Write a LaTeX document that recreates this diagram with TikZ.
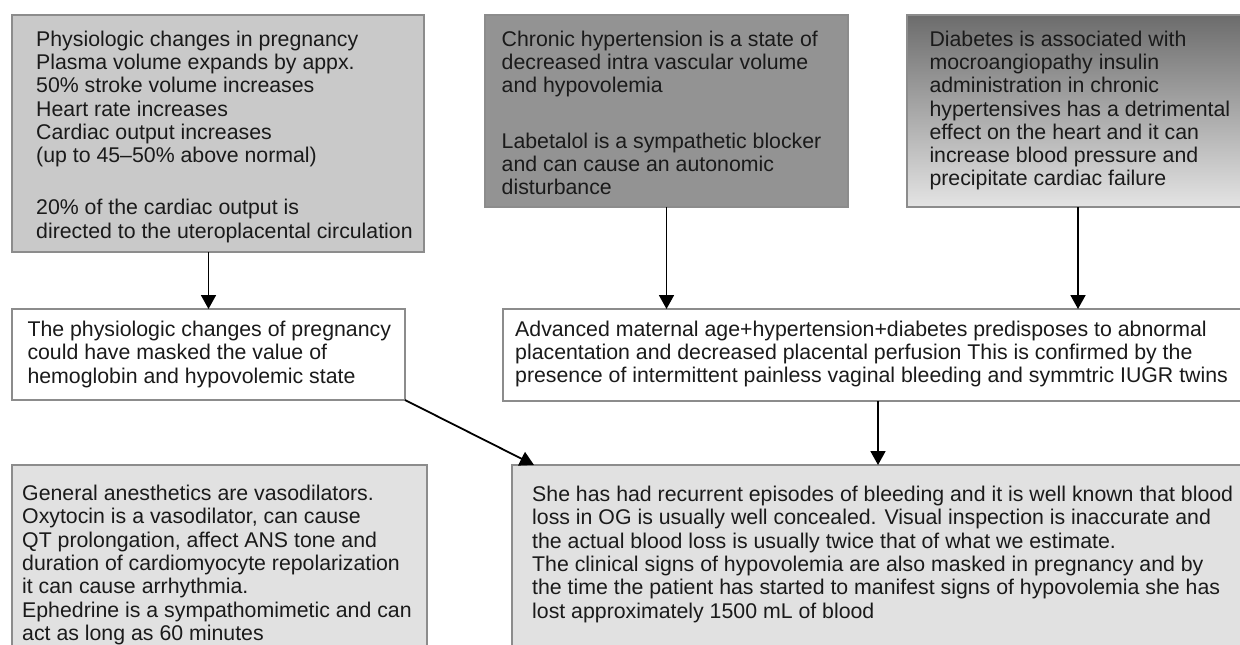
\documentclass[tikz,border=0pt]{standalone}
\usepackage{fontspec}
\setmainfont{Liberation Sans}
\usetikzlibrary{arrows.meta}
\definecolor{boxline}{HTML}{8C8C8C}
\definecolor{txtgray}{HTML}{1A1A1A}
\definecolor{lightfill}{HTML}{C9C9C9}
\definecolor{midfill}{HTML}{939393}
\definecolor{palefill}{HTML}{E1E1E1}
\definecolor{shadetop}{HTML}{6C6C6C}
\definecolor{shadebot}{HTML}{E4E4E4}
\newcommand{\bodyfont}{\fontsize{21.3}{23.3}\selectfont}
\tikzset{
  box/.style={draw=boxline, line width=1.3pt, inner sep=0pt, outer sep=0pt, anchor=north west},
  txt/.style={anchor=north west, inner sep=0pt, align=left, text=txtgray, font=\bodyfont},
  arr/.style={-{Triangle[length=14pt,width=15pt]}, line width=1.8pt, black}
}

\begin{document}
\begin{tikzpicture}[x=1pt,y=-1pt]
    \useasboundingbox (0,0) rectangle (1240,645);
    \clip (0,0) rectangle (1240,645);

    % top row
    \node[box, fill=lightfill, minimum width=412pt, minimum height=237pt] (physio) at (12,15) {};
    \node[box, fill=midfill, minimum width=363pt, minimum height=192pt] (chronic) at (485,15) {};
    \node[box, top color=shadetop, bottom color=shadebot, minimum width=342pt, minimum height=192pt] (diabetes) at (907,15) {};

    % middle row
    \node[box, fill=white, minimum width=393pt, minimum height=91pt] (masked) at (12,309) {};
    \node[box, fill=white, minimum width=750pt, minimum height=92pt] (advanced) at (503,309) {};

    % bottom row
    \node[box, fill=palefill, minimum width=415pt, minimum height=195pt] (drugs) at (12,465) {};
    \node[box, fill=palefill, minimum width=732pt, minimum height=195pt] (bleeding) at (512,465) {};

    \node[txt] (physiotxt) at ([shift={(24,15.5)}]physio.north west) {Physiologic changes in pregnancy\\
      Plasma volume expands by appx.\\
      50\% stroke volume increases\\
      Heart rate increases\\
      Cardiac output increases\\
      (up to 45–50\% above normal)\\[29pt]
      20\% of the cardiac output is\\
      directed to the uteroplacental circulation};
    \node[txt] (chronictxt) at ([shift={(16.5,15.5)}]chronic.north west) {Chronic hypertension is a state of\\
      decreased intra vascular volume\\
      and hypovolemia\\[32pt]
      Labetalol is a sympathetic blocker\\
      and can cause an autonomic\\
      disturbance};
    \node[txt] (diabetestxt) at ([shift={(22.3,15.5)}]diabetes.north west) {Diabetes is associated with\\
      mocroangiopathy insulin\\
      administration in chronic\\
      hypertensives has a detrimental\\
      effect on the heart and it can\\
      increase blood pressure and\\
      precipitate cardiac failure};
    \node[txt] (maskedtxt) at ([shift={(15.3,12)}]masked.north west) {The physiologic changes of pregnancy\\
      could have masked the value of\\
      hemoglobin and hypovolemic state};
    \node[txt] (advancedtxt) at ([shift={(12,11.5)}]advanced.north west) {Advanced maternal age+hypertension+diabetes predisposes to abnormal\\
      placentation and decreased placental perfusion This is confirmed by the\\
      presence of intermittent painless vaginal bleeding and symmtric IUGR twins};
    \node[txt] (drugstxt) at ([shift={(10,20)}]drugs.north west) {General anesthetics are vasodilators.\\
      Oxytocin is a vasodilator, can cause\\
      QT prolongation, affect ANS tone and\\
      duration of cardiomyocyte repolarization\\
      it can cause arrhythmia.\\
      Ephedrine is a sympathomimetic and can\\
      act as long as 60 minutes};
    \node[txt] (bleedingtxt) at ([shift={(20,21)}]bleeding.north west) {She has had recurrent episodes of bleeding and it is well known that blood\\
      loss in OG is usually well concealed. Visual inspection is inaccurate and\\
      the actual blood loss is usually twice that of what we estimate.\\
      The clinical signs of hypovolemia are also masked in pregnancy and by\\
      the time the patient has started to manifest signs of hypovolemia she has\\
      lost approximately 1500 mL of blood};

    % arrows
    \draw[arr] (physio.south -| masked.north) -- (masked.north);
    \draw[arr] (chronic.south) -- (chronic.south |- advanced.north);
    \draw[arr] (diabetes.south) -- (diabetes.south |- advanced.north);
    \draw[arr] (advanced.south) -- (advanced.south |- bleeding.north);
    \coordinate (bleedin) at ([xshift=22pt]bleeding.north west);
    \draw[arr] (masked.south east) -- (bleedin);
\end{tikzpicture}
\end{document}
